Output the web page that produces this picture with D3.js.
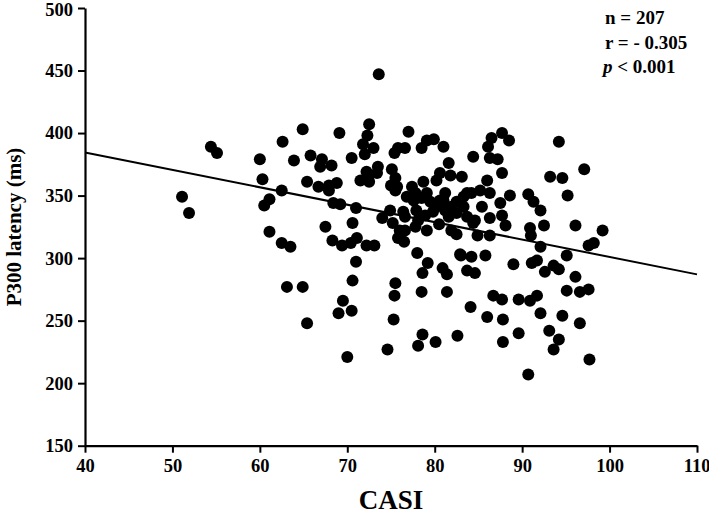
<!DOCTYPE html>
<html>
<head>
<meta charset="utf-8">
<script src="https://cdn.jsdelivr.net/npm/d3@7/dist/d3.min.js"></script>
<style>
html,body{margin:0;padding:0;background:#fff;}
svg text{font-family:"Liberation Serif","Times New Roman",serif;}
</style>
</head>
<body>
<svg id="chart" width="709" height="520"></svg>
<script>
// CASI scores (x) and P300 latencies in ms (y)
const casi = [51.1,51.9,54.4,55.1,60.0,60.3,60.5,61.1,61.1,62.5,62.5,62.6,63.1,63.5,63.9,64.9,64.9,65.4,65.4,65.8,
  66.7,66.9,67.1,67.5,67.9,67.9,68.2,68.3,68.4,68.8,69.0,69.1,69.2,69.4,69.5,70.0,70.4,70.5,70.5,70.6,
  70.6,71.0,71.0,71.1,71.5,71.8,72.0,72.2,72.2,72.3,72.5,72.5,73.0,73.1,73.4,73.5,73.6,74.0,74.6,75.0,
  75.1,75.3,75.4,75.4,75.5,75.7,75.8,76.5,76.6,77.0,77.4,77.8,78.0,78.1,78.5,78.5,78.6,78.6,78.7,79.1,
  79.2,79.9,80.1,80.6,80.9,81.0,81.2,81.4,81.4,81.6,81.8,82.6,82.9,83.1,83.7,84.1,84.2,84.2,84.4,84.6,
  85.2,85.8,86.0,86.0,86.1,86.3,86.3,86.3,86.3,86.5,86.7,87.2,87.5,87.7,87.7,87.7,87.7,87.8,87.8,88.1,
  88.5,88.6,89.0,89.6,89.6,90.7,90.7,90.9,90.9,91.0,91.1,91.3,91.7,91.7,92.1,92.1,92.1,92.5,92.6,93.1,
  93.2,93.6,93.6,94.2,94.2,94.2,94.6,94.6,95.1,95.1,95.2,96.1,96.1,96.6,96.6,97.1,97.6,98.2,97.6,97.7,
  99.2,76.4,76.6,76.6,78.1,79.1,80.2,80.6,82.5,81.9,75.5,83.7,84.4,75.5,77.6,78.5,79.5,77.9,78.9,77.8,
  79.8,81.0,81.9,82.5,83.3,82.5,83.7,84.6,81.2,81.6,85.4,75.2,76.0,74.9,76.8,80.2,79.1,83.3,72.4,84.9,
  80.5,75.8,83.0];
const latency = [349,336,389,384,379,363,342,347,321,354,312,393,277,309,378,403,277,361,248,382,
  357,373,379,325,354,358,374,314,344,360,256,400,343,310,266,221,312,380,258,328,
  282,340,297,316,362,391,383,369,310,398,407,361,388,310,368,373,447,332,227,358,
  371,251,384,270,280,357,388,313,388,401,357,352,304,230,388,273,288,239,361,394,
  296,395,233,368,292,389,352,287,273,376,366,238,303,365,290,261,301,352,381,288,
  354,302,362,253,389,380,352,332,318,396,270,379,344,400,368,334,267,251,233,326,
  394,350,295,267,240,351,207,324,266,318,296,345,298,270,338,309,256,326,289,242,
  365,294,227,393,291,235,364,254,302,274,350,326,285,273,248,371,310,312,275,219,
  322,337,333,322,330,322,341,346,319,322,364,352,328,354,346,348,345,338,334,325,
  337,346,341,345,341,336,333,330,338,333,341,328,322,338,349,362,352,349,365,318,
  327,316,302];

// Regression line endpoints
const fitX = [40, 110];
const fitY = [384.5, 287];

const xTicks = [40,50,60,70,80,90,100,110];
const yTicks = [150,200,250,300,350,400,450,500];

const stats = ["n = 207", "r = - 0.305"];
const pText = ["p", " < 0.001"];
const xTitle = "CASI";
const yTitle = "P300 latency (ms)";

const svg = d3.select("#chart");
const x = d3.scaleLinear().domain([40,110]).range([85,697]);
const y = d3.scaleLinear().domain([150,500]).range([445.7,8]);

// points
svg.append("g").selectAll("circle").data(casi.map((c,i)=>[c,latency[i]])).join("circle")
  .attr("cx", d=>x(d[0])).attr("cy", d=>y(d[1])).attr("r", 6).attr("fill", "#000");

// regression line
svg.append("line")
  .attr("x1", x(fitX[0])).attr("y1", y(fitY[0]))
  .attr("x2", x(fitX[1])).attr("y2", y(fitY[1]))
  .attr("stroke", "#000").attr("stroke-width", 2);

// axes
const xAxis = svg.append("g").attr("transform", `translate(0,${y(150)})`)
  .call(d3.axisBottom(x).tickValues(xTicks).tickFormat(d3.format("d")).tickSize(7).tickSizeOuter(0).tickPadding(6));
const yAxis = svg.append("g").attr("transform", `translate(${x(40)},0)`)
  .call(d3.axisLeft(y).tickValues(yTicks).tickFormat(d3.format("d")).tickSize(7).tickSizeOuter(0).tickPadding(5));
[xAxis, yAxis].forEach(g=>{
  g.selectAll("path.domain").attr("stroke","#000").attr("stroke-width",2.2);
  g.selectAll(".tick line").attr("stroke","#000").attr("stroke-width",2);
  g.selectAll("text").attr("font-family","Liberation Serif").attr("font-size",18.5).attr("font-weight","bold").attr("fill","#000");
});
xAxis.selectAll(".tick text").filter(d=>d===110).attr("text-anchor","end").attr("dx", 13);
yAxis.selectAll(".tick text").filter(d=>d===500).attr("dy", "0.40em");

// axis titles
svg.append("text").attr("x", 391).attr("y", 509).attr("text-anchor","middle")
  .attr("font-size", 27).attr("font-weight","bold").text(xTitle);
svg.append("text").attr("transform","translate(21,227) rotate(-90)").attr("text-anchor","middle")
  .attr("font-size", 21).attr("font-weight","bold").text(yTitle);

// stats annotation
svg.append("text").attr("x", 605).attr("y", 24).attr("font-size", 19).attr("font-weight","bold").text(stats[0]);
svg.append("text").attr("x", 605).attr("y", 49).attr("font-size", 19).attr("font-weight","bold").text(stats[1]);
const pt = svg.append("text").attr("x", 603).attr("y", 73).attr("font-size", 19).attr("font-weight","bold");
pt.append("tspan").attr("font-style","italic").text(pText[0]);
pt.append("tspan").text(pText[1]);
</script>
</body>
</html>
